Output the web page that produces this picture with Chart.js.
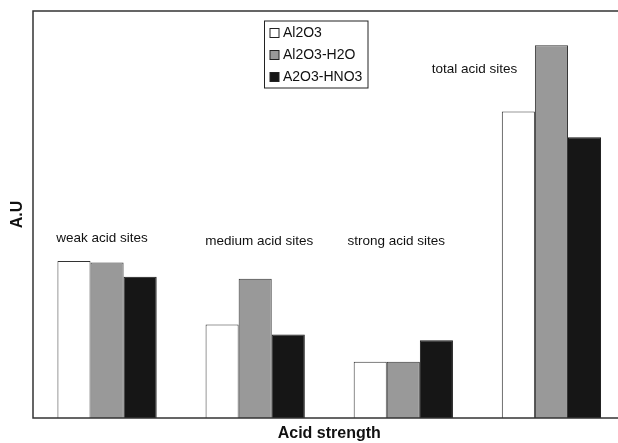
<!DOCTYPE html>
<html lang="en">
<head>
<meta charset="UTF-8">
<title>Acid strength</title>
<style>
  html, body { margin: 0; padding: 0; background: #fff; overflow: hidden; }
  .grafico { position: relative; width: 640px; height: 443px; }
</style>
</head>
<body>
<div class="grafico">
  <canvas id="myChart"></canvas>
</div>
<script src="https://cdn.jsdelivr.net/npm/chart.js"></script>
<script>
// data (arbitrary units, axis top = 100)
const categorias = ['weak', 'medium', 'strong', 'total'];
const rotulosSitios = ['weak acid sites', 'medium acid sites', 'strong acid sites', 'total acid sites'];
const series = ['Al2O3', 'Al2O3-H2O', 'A2O3-HNO3'];
const al2o3 = [38.6, 23.0, 13.8, 75.3];
const al2o3H2O = [38.2, 34.2, 13.8, 91.6];
const al2o3HNO3 = [34.7, 20.5, 19.1, 69.0];

const fonte = '"Liberation Sans", Arial, Helvetica, sans-serif';

// text labels above each group (x shift in px, height in axis units)
const posRotulos = [
  { dx: -5, y: 44.2 },
  { dx: 4, y: 43.5 },
  { dx: -7, y: 43.5 },
  { dx: -77, y: 85.7 }
];

const moldura = {
  id: 'moldura',
  afterDatasetsDraw(chart) {
    const { ctx, chartArea: a } = chart;
    ctx.save();
    ctx.strokeStyle = '#333';
    ctx.lineWidth = 1.5;
    ctx.strokeRect(a.left, a.top, a.right - a.left, a.bottom - a.top);
    ctx.restore();
  }
};

const rotulos = {
  id: 'rotulos',
  afterDraw(chart) {
    const { ctx, scales: { x, y } } = chart;
    ctx.save();
    ctx.fillStyle = '#111';
    ctx.font = '13.5px ' + fonte;
    ctx.textAlign = 'center';
    ctx.textBaseline = 'middle';
    for (let i = 0; i < rotulosSitios.length; i++) {
      const p = posRotulos[i];
      ctx.fillText(rotulosSitios[i], x.getPixelForValue(i) + p.dx, y.getPixelForValue(p.y));
    }
    ctx.restore();
  }
};

// legend box drawn by hand (vertical, framed)
const legenda = {
  id: 'legenda',
  afterDraw(chart) {
    const { ctx } = chart;
    const bx = 264.5, by = 21, bw = 103.5, bh = 67;
    ctx.save();
    ctx.fillStyle = '#fff';
    ctx.fillRect(bx, by, bw, bh);
    ctx.strokeStyle = '#222';
    ctx.lineWidth = 1;
    ctx.strokeRect(bx, by, bw, bh);
    ctx.font = '14px ' + fonte;
    ctx.textBaseline = 'middle';
    ctx.textAlign = 'left';
    chart.data.datasets.forEach(function (ds, i) {
      const cy = 33 + i * 22;
      ctx.fillStyle = ds.backgroundColor;
      ctx.fillRect(270, cy - 4.5, 9, 9);
      ctx.strokeStyle = '#222';
      ctx.strokeRect(270, cy - 4.5, 9, 9);
      ctx.fillStyle = '#111';
      ctx.fillText(ds.label, 283, cy + 0.5);
    });
    ctx.restore();
  }
};

const dados = {
  labels: categorias,
  datasets: [
    { label: series[0], data: al2o3, backgroundColor: '#ffffff', borderColor: '#333', borderWidth: 1 },
    { label: series[1], data: al2o3H2O, backgroundColor: '#999999', borderColor: '#333', borderWidth: 1 },
    { label: series[2], data: al2o3HNO3, backgroundColor: '#161616', borderColor: '#161616', borderWidth: 1 }
  ]
};

const config = {
  type: 'bar',
  data: dados,
  options: {
    responsive: true,
    maintainAspectRatio: false,
    animation: false,
    layout: { padding: { left: 5, top: 11, right: 14.5, bottom: 1 } },
    datasets: { bar: { barPercentage: 1, categoryPercentage: 0.67 } },
    plugins: {
      legend: { display: false },
      tooltip: { enabled: false }
    },
    scales: {
      x: {
        grid: { display: false, drawTicks: false },
        border: { display: false },
        ticks: { display: false },
        title: {
          display: true,
          text: 'Acid strength',
          color: '#111',
          font: { family: fonte, size: 16, weight: 'bold', lineHeight: 1 },
          padding: { top: 8, bottom: 0 }
        }
      },
      y: {
        min: 0,
        max: 100,
        grid: { display: false, drawTicks: false },
        border: { display: false },
        ticks: { display: false },
        title: {
          display: true,
          text: 'A.U',
          color: '#111',
          font: { family: fonte, size: 16, weight: 'bold', lineHeight: 1 },
          padding: { top: 5, bottom: 7 }
        }
      }
    }
  },
  plugins: [moldura, rotulos, legenda]
};

let myChart = new Chart(document.getElementById('myChart'), config);
</script>
</body>
</html>
